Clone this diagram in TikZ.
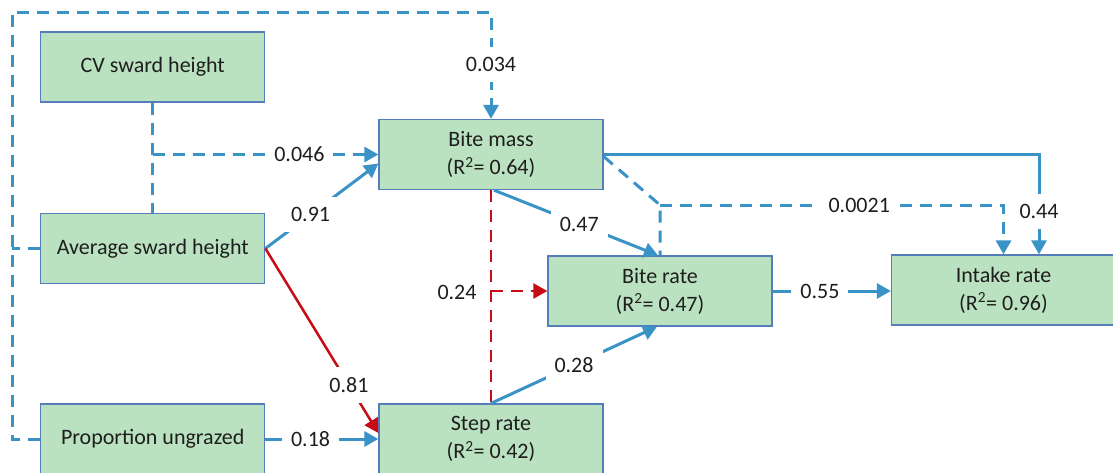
\documentclass[tikz,border=0pt]{standalone}
\usepackage{fontspec}
\setmainfont{Carlito}
\usetikzlibrary{arrows.meta,calc}
\definecolor{boxfill}{RGB}{187,226,192}
\definecolor{boxline}{RGB}{85,125,185}
\definecolor{lblue}{RGB}{58,147,198}
\definecolor{lred}{RGB}{200,12,22}
\definecolor{txt}{RGB}{30,30,30}
\tikzset{
 box/.style={draw=boxline, line width=1.3pt, fill=boxfill, minimum width=224pt, minimum height=70pt, inner sep=0pt, align=center, text=txt, font=\fontsize{22}{28}\selectfont},
 bl/.style={draw=lblue, line width=3pt},
 rd/.style={draw=lred, line width=2.5pt},
 dsh/.style={dash pattern=on 12pt off 8pt},
 arr/.style={-{Triangle[length=14pt,width=15pt]}},
 lbl/.style={fill=white, inner xsep=9pt, inner ysep=10pt, text=txt, font=\fontsize{22}{26}\selectfont},
}
\begin{document}
\begin{tikzpicture}[x=1pt,y=-1pt]
\useasboundingbox[fill=white] (0,0) rectangle (1113,472);
% boxes
\node[box] (cv)   at (152.75,67)   {CV sward height};
\node[box] (avg)  at (152.75,248.5) {Average sward height};
\node[box] (prop) at (152.75,439)  {Proportion ungrazed};
\node[box] (bm)   at (491,154.5)   {Bite mass\\(R\textsuperscript{2}= 0.64)};
\node[box] (br)   at (660,291)     {Bite rate\\(R\textsuperscript{2}= 0.47)};
\node[box] (ir)   at (1003.5,290)  {Intake rate\\(R\textsuperscript{2}= 0.96)};
\node[box] (sr)   at (491,439)     {Step rate\\(R\textsuperscript{2}= 0.42)};
% helper coordinates
\coordinate (lt) at (12,12);
\coordinate (lp) at (12,439);
\coordinate (la) at (12,248.5);
\coordinate (tt) at (491,12);
\coordinate (cj) at (152.75,154.5);
\coordinate (rj) at (491,291);
\coordinate (dj) at (660,205);
\coordinate (dr) at (1003.5,205);
\coordinate (sr1) at (1039,154.5);
% dashed outer loop 0.034
\draw[bl,dsh] (avg.west) -- (la);
\draw[bl,dsh,arr] (prop.west) -- (lp) -- (lt) -- (tt) -- node[lbl,pos=0.49]{0.034} (bm.north);
% CV dashed
\draw[bl,dsh] (cv.south) -- (avg.north);
\draw[bl,dsh,arr] (cj) -- node[lbl,pos=0.65]{0.046} (bm.west);
% avg -> bite mass
\draw[bl,arr] (avg.east) -- node[lbl,pos=0.4]{0.91} ([yshift=-9pt]bm.west);
% avg -> step rate
\draw[rd,arr] (avg.east) -- node[lbl,pos=0.74]{0.81} ([yshift=6pt]sr.west);
% prop -> step rate
\draw[bl,arr] (prop.east) -- node[lbl,pos=0.4]{0.18} (sr.west);
% bite mass -> step rate (red dashed) and branch
\draw[rd,dsh] (bm.south) -- (sr.north);
\draw[rd,dsh,arr] (rj) -- (br.west);
\node[text=txt, font=\fontsize{22}{26}\selectfont] (l24) at (457,292) {0.24};
% bite mass -> bite rate
\draw[bl,arr] ([xshift=3pt]bm.south) -- node[lbl,pos=0.52]{0.47} ([xshift=-2pt]br.north);
% step rate -> bite rate
\draw[bl,arr] (sr.north) -- node[lbl,pos=0.5]{0.28} ([xshift=-3pt]br.south);
% bite rate -> intake
\draw[bl,arr] (br.east) -- node[lbl,pos=0.4]{0.55} (br.east -| ir.west);
% bite mass -> intake dashed 0.0021
\draw[bl,dsh] ([yshift=-2pt]bm.east) -- (dj) -- (br.north);
\draw[bl,dsh,arr] (dj) -- node[lbl,pos=0.58]{0.0021} (dr) -- (ir.north);
% bite mass -> intake solid 0.44
\draw[bl,arr] (bm.east) -- (sr1) -- node[lbl,pos=0.57]{0.44} (sr1 |- ir.north);
\end{tikzpicture}
\end{document}
